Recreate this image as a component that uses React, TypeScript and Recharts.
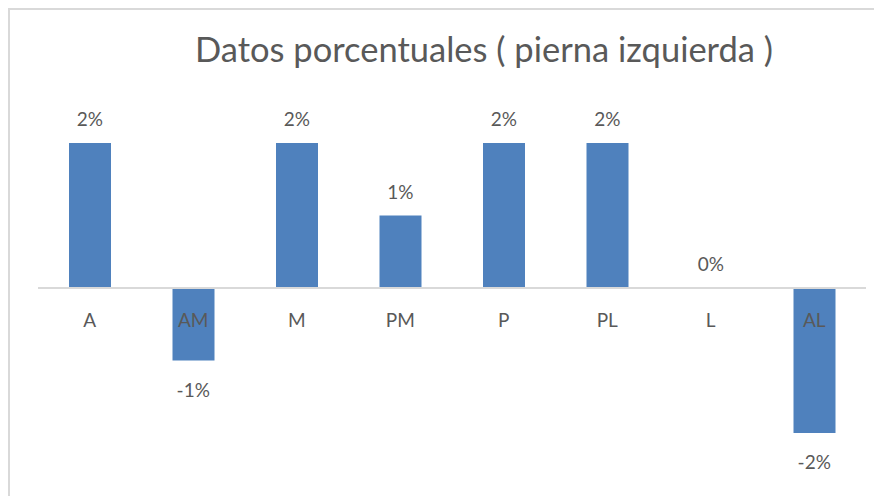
import { ComposedChart, Bar, Line, XAxis, YAxis, ReferenceLine, LabelList } from 'recharts';

const CATEGORIES = ['A', 'AM', 'M', 'PM', 'P', 'PL', 'L', 'AL'];
const VALUES = [2, -1, 2, 1, 2, 2, 0, -2];

const BAR_COLOR = '#4f81bd';
const TEXT_COLOR = '#595959';
const FONT = 'Lato, "Open Sans", sans-serif';

const W = 874;
const H = 488;
const XAXIS_H = 30;
const MARGIN = { top: 135, right: 16, bottom: 63 - XAXIS_H, left: 30 };
// y of the zero line (domain is symmetric, -2..2)
const ZERO_Y = MARGIN.top + (H - MARGIN.top - MARGIN.bottom - XAXIS_H) / 2;

const data = CATEGORIES.map((name, i) => ({ name, value: VALUES[i] }));

// category names sit just under the zero line, even over negative bars
function CategoryTick(props: any) {
  const { x, payload } = props;
  return (
    <text x={x} y={ZERO_Y + 39} textAnchor="middle" fill={TEXT_COLOR} fontSize={19} fontFamily={FONT}>
      {payload.value}
    </text>
  );
}

// value labels: above the bar end for >= 0, below it for negatives
function ValueLabel(props: any) {
  const { x, y, value } = props;
  const neg = value < 0;
  return (
    <text
      x={x}
      y={neg ? y + 36 : y - 17}
      textAnchor="middle"
      fill={TEXT_COLOR}
      fontSize={19}
      fontFamily={FONT}
    >
      {`${value}%`}
    </text>
  );
}

export default function App() {
  return (
    <div
      style={{
        position: 'relative',
        width: W,
        height: H,
        overflow: 'hidden',
        background: '#fff',
        boxShadow: 'inset 2px 2px 0 #d9d9d9',
      }}
    >
      <div
        style={{
          position: 'absolute',
          top: 20,
          left: 476,
          transform: 'translateX(-50%)',
          whiteSpace: 'nowrap',
          fontFamily: FONT,
          fontSize: 34.5,
          color: TEXT_COLOR,
        }}
      >
        Datos porcentuales ( pierna izquierda )
      </div>
      <div style={{ position: 'absolute', top: 0, left: 0 }}>
        <ComposedChart width={W} height={H} data={data} margin={MARGIN}>
          <XAxis
            dataKey="name"
            height={XAXIS_H}
            axisLine={false}
            tickLine={false}
            tick={<CategoryTick />}
          />
          <YAxis hide domain={[-2, 2]} />
          <ReferenceLine y={0} stroke="#d9d9d9" strokeWidth={2} />
          <Bar dataKey="value" fill={BAR_COLOR} barSize={42} isAnimationActive={false} />
          <Line
            dataKey="value"
            stroke="none"
            dot={false}
            activeDot={false}
            isAnimationActive={false}
          >
            <LabelList dataKey="value" content={<ValueLabel />} />
          </Line>
        </ComposedChart>
      </div>
    </div>
  );
}
